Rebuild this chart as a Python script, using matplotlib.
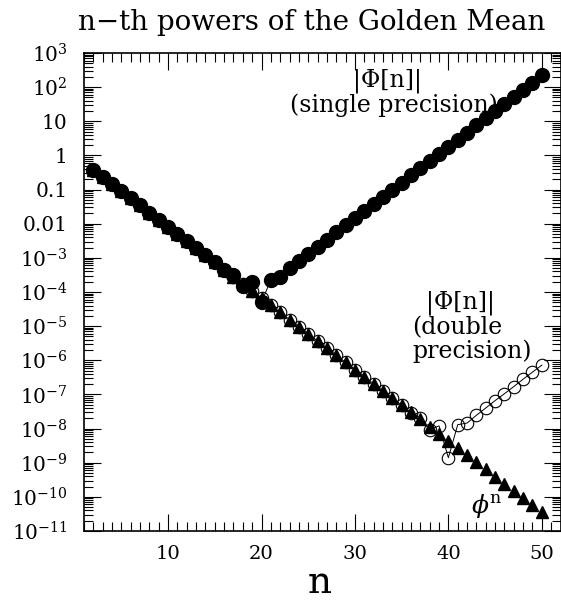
import matplotlib
matplotlib.use('Agg')
import matplotlib.pyplot as plt
from matplotlib.ticker import FixedLocator, FixedFormatter, MultipleLocator, LogLocator, NullFormatter

plt.rcParams['font.family'] = 'DejaVu Serif'
plt.rcParams['mathtext.fontset'] = 'dejavuserif'

# values, n = 2 .. 50
n = list(range(2, 51))

phi_n = [0.382, 0.236, 0.146, 0.0902, 0.0557, 0.0344, 0.0213, 0.0132, 8.13e-3,
         5.03e-3, 3.11e-3, 1.92e-3, 1.19e-3, 7.33e-4, 4.53e-4, 2.80e-4, 1.73e-4,
         1.07e-4, 6.61e-5, 4.08e-5, 2.52e-5, 1.56e-5, 9.64e-6, 5.96e-6, 3.68e-6,
         2.28e-6, 1.41e-6, 8.69e-7, 5.37e-7, 3.32e-7, 2.05e-7, 1.27e-7, 7.84e-8,
         4.84e-8, 2.99e-8, 1.85e-8, 1.14e-8, 7.06e-9, 4.36e-9, 2.70e-9, 1.67e-9,
         1.03e-9, 6.36e-10, 3.93e-10, 2.43e-10, 1.50e-10, 9.28e-11, 5.74e-11, 3.54e-11]

single = [0.382, 0.236, 0.146, 0.0902, 0.0557, 0.0344, 0.0213, 0.0132, 8.13e-3,
          5.03e-3, 3.11e-3, 1.92e-3, 1.19e-3, 7.44e-4, 4.36e-4, 3.1e-4, 1.5e-4,
          1.9e-4, 5.0e-5, 2.3e-4, 2.8e-4, 5.0e-4, 8.0e-4, 1.30e-3, 2.11e-3,
          3.42e-3, 5.53e-3, 8.95e-3, 1.45e-2, 2.34e-2, 3.79e-2, 6.14e-2, 9.93e-2,
          0.161, 0.260, 0.421, 0.681, 1.10, 1.78, 2.89, 4.67,
          7.56, 12.2, 19.8, 32.0, 51.8, 83.9, 136, 220]

double = [0.382, 0.236, 0.146, 0.0902, 0.0557, 0.0344, 0.0213, 0.0132, 8.13e-3,
          5.03e-3, 3.11e-3, 1.92e-3, 1.19e-3, 7.33e-4, 4.53e-4, 2.80e-4, 1.73e-4,
          1.07e-4, 6.61e-5, 4.08e-5, 2.52e-5, 1.56e-5, 9.64e-6, 5.96e-6, 3.68e-6,
          2.28e-6, 1.41e-6, 8.69e-7, 5.37e-7, 3.32e-7, 2.05e-7, 1.27e-7, 7.84e-8,
          4.9e-8, 2.9e-8, 2.0e-8, 9.2e-9, 1.2e-8, 1.4e-9, 1.3e-8, 1.45e-8,
          2.45e-8, 4.0e-8, 6.6e-8, 1.05e-7, 1.7e-7, 2.8e-7, 4.5e-7, 7.2e-7]

ytick_vals = [1e3, 1e2, 10, 1, 0.1, 0.01, 1e-3, 1e-4, 1e-5, 1e-6, 1e-7, 1e-8,
              1e-9, 1e-10, 1e-11]
ytick_labels = [r'$10^{3}$', r'$10^{2}$', '10', '1', '0.1', '0.01',
                r'$10^{-3}$', r'$10^{-4}$', r'$10^{-5}$', r'$10^{-6}$',
                r'$10^{-7}$', r'$10^{-8}$', r'$10^{-9}$', r'$10^{-10}$',
                r'$10^{-11}$']
xtick_vals = [10, 20, 30, 40, 50]

fig = plt.figure(figsize=(5.61, 6.01), dpi=100)
ax = fig.add_axes([84 / 561, 70 / 601, 476.5 / 561, 478 / 601])

ax.plot(n, double, color='black', lw=0.7, marker='o', ms=9,
        mfc='none', mec='black', mew=0.8, zorder=2)
ax.plot(n, phi_n, ls='none', marker='^', ms=8, color='black', zorder=3)
ax.plot(n, single, color='black', lw=0.7, marker='o', ms=10,
        mfc='black', mec='black', zorder=4)

ax.set_yscale('log')
ax.set_xlim(1, 52)
ax.set_ylim(1e-11, 1e3)

ax.yaxis.set_major_locator(FixedLocator(ytick_vals))
ax.yaxis.set_major_formatter(FixedFormatter(ytick_labels))
ax.yaxis.set_minor_locator(LogLocator(base=10, subs=range(2, 10), numticks=30))
ax.yaxis.set_minor_formatter(NullFormatter())
ax.xaxis.set_major_locator(FixedLocator(xtick_vals))
ax.xaxis.set_minor_locator(MultipleLocator(1))

ax.tick_params(which='both', direction='in', top=True, right=True, width=0.8)
ax.tick_params(which='major', length=12)
ax.tick_params(which='minor', length=6.5)
ax.tick_params(axis='y', which='major', pad=12, labelsize=14.5)
ax.tick_params(axis='x', which='major', pad=10, labelsize=14)
for s in ax.spines.values():
    s.set_linewidth(1.2)

ax.set_xlabel('n', fontsize=27, va='center')
ax.xaxis.set_label_coords(0.495, -0.109)

fig.text(312 / 561, 1 - 22 / 601, 'n\u2212th powers of the Golden Mean',
         ha='center', va='center', fontsize=20)

ax.text(0.636, 0.942, '|\u03a6[n]|', transform=ax.transAxes,
        ha='center', va='center', fontsize=17)
ax.text(0.651, 0.890, '(single precision)', transform=ax.transAxes,
        ha='center', va='center', fontsize=17)
ax.text(0.789, 0.478, '|\u03a6[n]|', transform=ax.transAxes,
        ha='center', va='center', fontsize=17)
ax.text(0.783, 0.426, '(double', transform=ax.transAxes,
        ha='center', va='center', fontsize=17)
ax.text(0.814, 0.376, 'precision)', transform=ax.transAxes,
        ha='center', va='center', fontsize=17)
ax.text(0.846, 0.053, r'$\phi^{\rm n}$', transform=ax.transAxes,
        ha='center', va='center', fontsize=18)

fig.savefig('out.png', dpi=100)
